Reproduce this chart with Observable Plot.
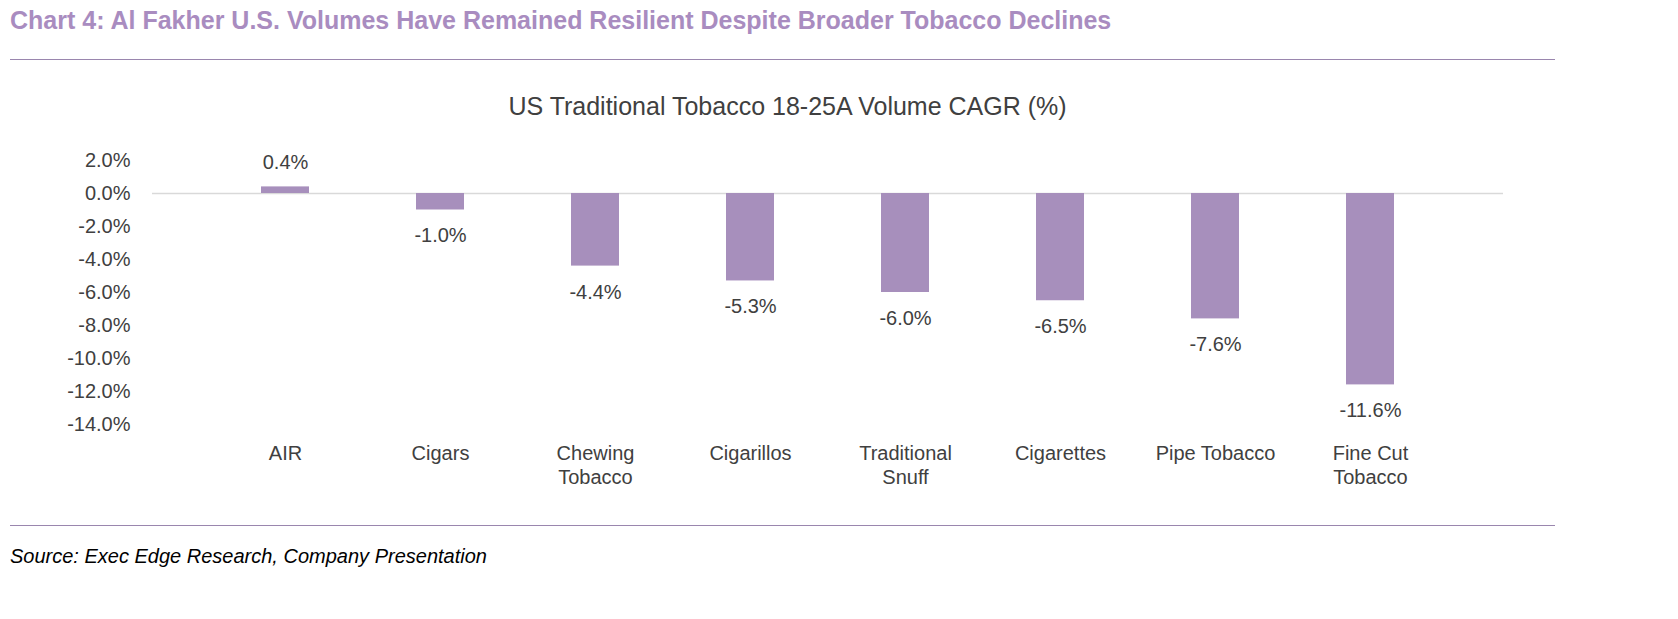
<!DOCTYPE html>
<html><head><meta charset="utf-8">
<script src="https://cdn.jsdelivr.net/npm/d3@7"></script>
<script src="https://cdn.jsdelivr.net/npm/@observablehq/plot@0.6"></script>
<style>
body{margin:0;background:#fff;font-family:Arial,"Liberation Sans",sans-serif;width:1678px;height:619px;position:relative;overflow:hidden}
#t{position:absolute;left:10px;top:6px;font-size:25px;font-weight:bold;color:#A98CC0}
.rule{position:absolute;left:10px;width:1545px;height:0;border-top:1.5px solid #9A86AE}
#st{position:absolute;left:0;width:1575px;top:92px;text-align:center;font-size:25px;color:#404040}
#src{position:absolute;left:10px;top:545px;font-size:20px;font-style:italic;color:#000}
#chart{position:absolute;left:0;top:140px}
</style></head><body>
<div id="t">Chart 4: Al Fakher U.S. Volumes Have Remained Resilient Despite Broader Tobacco Declines</div>
<div class="rule" style="top:59px"></div>
<div id="st">US Traditional Tobacco 18-25A Volume CAGR (%)</div>
<div id="chart"></div>
<div class="rule" style="top:525px"></div>
<div id="src">Source: Exec Edge Research, Company Presentation</div>
<script>
const categories = ["AIR","Cigars","Chewing\nTobacco","Cigarillos","Traditional\nSnuff","Cigarettes","Pipe Tobacco","Fine Cut\nTobacco"];
const values = [0.4,-1.0,-4.4,-5.3,-6.0,-6.5,-7.6,-11.6];
const yTicks = [2,0,-2,-4,-6,-8,-10,-12,-14];
const data = categories.map((c,i)=>({c,v:values[i]}));
const fmt = d=>d.v.toFixed(1)+"%";
const p = Plot.plot({
  width:1678,height:380,marginTop:20,marginBottom:96,marginLeft:152,marginRight:175,
  style:{fontFamily:"Arial, 'Liberation Sans', sans-serif",fontSize:"20px",color:"#404040",background:"transparent"},
  x:{domain:categories,padding:0.69,label:null},
  y:{domain:[-14,2],label:null},
  marks:[
    Plot.ruleY([0],{stroke:"#D9D9D9",strokeWidth:1.5}),
    Plot.barY(data,{x:"c",y:"v",fill:"#A78FBC"}),
    Plot.text(data.filter(d=>d.v<0),{x:"c",y:"v",text:fmt,dy:26,fill:"#404040",fontSize:20}),
    Plot.text(data.filter(d=>d.v>=0),{x:"c",y:"v",text:fmt,dy:-24,fill:"#404040",fontSize:20}),
    Plot.axisY({ticks:yTicks,tickFormat:d=>d.toFixed(1)+"%",tickSize:0,tickPadding:22,fontSize:20,fill:"#404040"}),
    Plot.axisX({tickSize:0,tickPadding:18,fontSize:20,fill:"#404040",lineHeight:1.2,textAnchor:"middle"})
  ]
});
document.getElementById("chart").appendChild(p);
</script>
</body></html>
